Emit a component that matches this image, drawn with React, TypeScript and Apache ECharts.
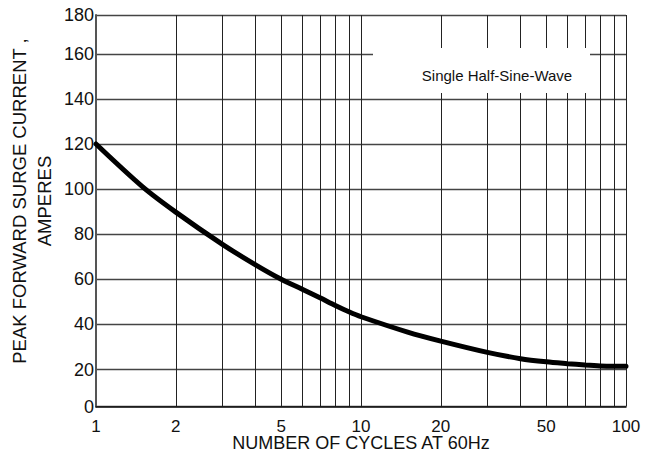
import React, { useEffect, useRef } from "react";
import * as echarts from "echarts";

// Number of cycles at 60 Hz (log axis) and peak forward surge current (A)
const cycles = [1, 1.5, 2, 3, 4, 5, 6, 7, 8, 9, 10, 15, 20, 30, 40, 50, 60, 70, 80, 90, 100];
const surgeCurrent = [120, 101, 89.8, 75.5, 66.4, 60.0, 55.6, 51.8, 48.4, 45.6, 43.4, 36.6, 32.6, 27.6, 24.8, 23.4, 22.6, 22.0, 21.6, 21.5, 21.5];

// Grid lines and labels of the x axis
const xGridValues = [1, 2, 3, 4, 5, 6, 7, 8, 9, 10, 20, 30, 40, 50, 60, 70, 80, 90, 100];
const xTickLabels = [1, 2, 5, 10, 20, 50, 100];

// The reference's end lines (labelled 0 and 180) sit closer to their neighbours
// than the regular 20-A pitch, so the drawn range is slightly narrower.
const yAxisBottom = 3.6;
const yAxisTop = 177.2;
const yGridValues = [yAxisBottom, 20, 40, 60, 80, 100, 120, 140, 160, yAxisTop];

const xAxisName = "NUMBER OF CYCLES AT 60Hz";
const yAxisName = "PEAK FORWARD SURGE CURRENT ,\nAMPERES";
const noteText = "Single Half-Sine-Wave";

const FONT = "'Liberation Sans', Arial, Helvetica, sans-serif";

export default function App() {
  const ref = useRef<HTMLDivElement>(null);

  useEffect(() => {
    if (!ref.current) return;
    const chart = echarts.init(ref.current, undefined, { renderer: "svg" });
    const option: any = {
      animation: false,
      backgroundColor: "#ffffff",
      textStyle: { fontFamily: FONT },
      grid: { left: 96, right: 23, top: 15, bottom: 48 },
      xAxis: {
        type: "log",
        logBase: 10,
        min: 1,
        max: 100,
        name: xAxisName,
        nameLocation: "middle",
        nameGap: 30,
        nameMoveOverlap: false,
        nameTextStyle: { fontFamily: FONT, fontSize: 18, lineHeight: 13, color: "#111" },
        axisLine: { show: true, lineStyle: { color: "#111", width: 1.5 } },
        axisTick: { show: false, customValues: xGridValues },
        axisLabel: {
          customValues: xTickLabels,
          margin: 14,
          fontFamily: FONT,
          fontSize: 17,
          lineHeight: 12,
          color: "#111",
          formatter: (v: number) => String(Math.round(v)),
        },
        splitLine: { show: true, lineStyle: { color: "#222", width: 1 } },
        minorSplitLine: { show: false },
      },
      yAxis: {
        type: "value",
        min: yAxisBottom,
        max: yAxisTop,
        axisLine: { show: true, lineStyle: { color: "#555", width: 2 } },
        axisTick: { show: false, customValues: yGridValues },
        axisLabel: {
          customValues: yGridValues,
          margin: 2,
          fontFamily: FONT,
          fontSize: 18,
          color: "#111",
          formatter: (v: number) => String(Math.round(v / 20) * 20),
        },
        splitLine: { show: true, lineStyle: { color: "#444", width: 1.3 } },
      },
      graphic: [
        {
          type: "rect",
          z: 50,
          shape: { x: 373, y: 48, width: 217, height: 45 },
          style: { fill: "#ffffff" },
        },
        {
          type: "text",
          z: 51,
          x: 497,
          y: 75,
          style: {
            text: noteText,
            fontFamily: FONT,
            fontSize: 15,
            fill: "#111",
            textAlign: "center",
            textVerticalAlign: "middle",
          },
        },
        {
          type: "text",
          z: 51,
          x: 32,
          y: 201,
          rotation: Math.PI / 2,
          style: {
            text: yAxisName,
            fontFamily: FONT,
            fontSize: 18.5,
            lineHeight: 25,
            fill: "#111",
            textAlign: "center",
            textVerticalAlign: "middle",
          },
        },
      ],
      series: [
        {
          type: "line",
          data: cycles.map((c, i) => [c, surgeCurrent[i]]),
          symbol: "none",
          smooth: 0.3,
          lineStyle: { color: "#000", width: 5, cap: "round" },
          z: 10,
        },
      ],
    };
    chart.setOption(option);
    return () => chart.dispose();
  }, []);

  return (
    <div
      ref={ref}
      style={{ position: "fixed", left: 0, top: 0, width: 649, height: 457 }}
    />
  );
}
